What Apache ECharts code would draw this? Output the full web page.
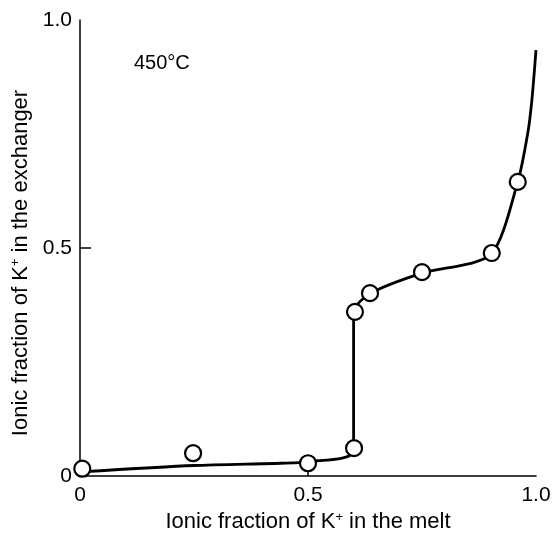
<!DOCTYPE html>
<html>
<head>
<meta charset="utf-8">
<script src="https://cdn.jsdelivr.net/npm/echarts@6/dist/echarts.min.js"></script>
<style>html,body{margin:0;padding:0;background:#fff;}#c{width:554px;height:534px;}</style>
</head>
<body>
<div id="c"></div>
<script>
// Measured points (ionic fraction in melt, ionic fraction in exchanger)
var pointX = [0.005, 0.248, 0.5, 0.601, 0.603, 0.636, 0.75, 0.903, 0.96];
var pointY = [0.016, 0.050, 0.028, 0.061, 0.36, 0.401, 0.447, 0.489, 0.645];
// Drawn isotherm curve
var curveX = [0.0, 0.25, 0.44, 0.5, 0.6, 0.6, 0.636, 0.75, 0.9, 0.96, 0.982, 0.991, 1.0];
var curveY = [0.009, 0.023, 0.028, 0.031, 0.055, 0.36, 0.40, 0.445, 0.485, 0.645, 0.752, 0.825, 0.934];
var tickValues = [0, 0.5, 1.0];
var tickLabels = ['0', '0.5', '1.0'];
var annotation = '450°C';

var chart = echarts.init(document.getElementById('c'));
var pts = pointX.map(function (x, i) { return [x, pointY[i]]; });
var crv = curveX.map(function (x, i) { return [x, curveY[i]]; });
var fam = '"Liberation Sans", Arial, sans-serif';
function fmt(v) { var i = tickValues.indexOf(v); return i >= 0 ? tickLabels[i] : ''; }
var nameRich = {
  a: { fontFamily: fam, fontSize: 22, color: '#000' },
  s: { fontFamily: fam, fontSize: 13, color: '#000', verticalAlign: 'top', padding: [0, 0, 10, 0] }
};

chart.setOption({
  animation: false,
  backgroundColor: '#fff',
  title: {
    text: annotation, left: 129, top: 48,
    textStyle: { fontFamily: fam, fontSize: 20, fontWeight: 'normal', color: '#000' }
  },
  grid: { left: 80, right: 18, top: 20, bottom: 58, containLabel: false, outerBoundsMode: 'none' },
  xAxis: {
    type: 'value', min: 0, max: 1, interval: 0.5,
    splitLine: { show: false },
    axisLine: { lineStyle: { color: '#000', width: 1.5 } },
    axisTick: { show: true, inside: true, length: 8, customValues: [0.5], lineStyle: { color: '#000', width: 1.5 } },
    axisLabel: { customValues: tickValues, formatter: fmt, margin: 9, fontFamily: fam, fontSize: 21, color: '#000' },
    name: '{a|Ionic fraction of K}{s|+}{a| in the melt}',
    nameLocation: 'middle', nameGap: 34,
    nameTextStyle: { rich: nameRich }
  },
  yAxis: {
    type: 'value', min: 0, max: 1, interval: 0.5,
    splitLine: { show: false },
    axisLine: { lineStyle: { color: '#000', width: 1.5 } },
    axisTick: { show: true, inside: true, length: 11, customValues: [0.5], lineStyle: { color: '#000', width: 1.5 } },
    axisLabel: { customValues: tickValues, formatter: fmt, margin: 8, fontFamily: fam, fontSize: 21, color: '#000' },
    name: '{a|Ionic fraction of K}{s|+}{a| in the exchanger}',
    nameLocation: 'middle', nameGap: 48,
    nameTextStyle: { rich: nameRich, padding: [0, 30, 0, 0] }
  },
  series: [
    {
      type: 'line', data: crv, smooth: 0.25, showSymbol: false, symbol: 'none', clip: false,
      lineStyle: { color: '#000', width: 2.8 }, z: 2
    },
    {
      type: 'scatter', data: pts, symbol: 'circle', symbolSize: 16,
      itemStyle: { color: '#fff', borderColor: '#000', borderWidth: 2.2, opacity: 1 }, z: 3
    }
  ]
});
</script>
</body>
</html>
